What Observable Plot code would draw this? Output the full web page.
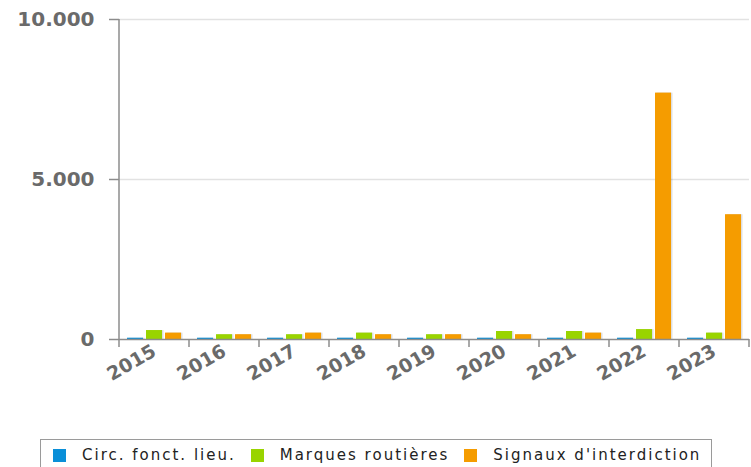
<!DOCTYPE html>
<html>
<head>
<meta charset="utf-8">
<script src="https://cdn.jsdelivr.net/npm/d3@7"></script>
<script src="https://cdn.jsdelivr.net/npm/@observablehq/plot@0.6"></script>
<style>
  html, body { margin: 0; padding: 0; background: #fff; }
  body { width: 751px; height: 467px; overflow: hidden; position: relative; font-family: "DejaVu Sans", sans-serif; }
  #legend { position: absolute; left: 40px; top: 439px; width: 672px; height: 40px; border: 1px solid #9a9a9a; box-sizing: border-box; display: flex; align-items: flex-start; padding-top: 6px; padding-left: 12px; white-space: nowrap; }
  .item { display: flex; align-items: center; flex-shrink: 0; margin-right: 15px; font-size: 15px; letter-spacing: 2px; color: #222; white-space: nowrap; }
  .sw { width: 13px; height: 13px; margin-right: 16px; flex-shrink: 0; }
</style>
</head>
<body>
<div id="chart"></div>
<div id="legend"></div>
<script>
const years = ["2015", "2016", "2017", "2018", "2019", "2020", "2021", "2022", "2023"];
const seriesNames = ["Circ. fonct. lieu.", "Marques routières", "Signaux d'interdiction"];
const circFonctLieu = [40, 40, 40, 40, 40, 40, 40, 40, 40];
const marquesRoutieres = [280, 150, 150, 200, 150, 250, 250, 310, 200];
const signauxInterdiction = [200, 150, 200, 150, 150, 150, 200, 7700, 3900];
const colors = ["#0a8fd8", "#99d400", "#f59c00"];
const yTicks = [0, 5000, 10000];

const seriesValues = [circFonctLieu, marquesRoutieres, signauxInterdiction];
const data = [];
years.forEach((yr, i) => seriesNames.forEach((s, j) => data.push({year: yr, series: s, value: seriesValues[j][i]})));

const loc = d3.formatLocale({decimal: ",", thousands: ".", grouping: [3], currency: ["", ""]});
const fmt = loc.format(",d");

const axisColor = "#8c8c8c";
const textColor = "#6a6a6a";

const chart = Plot.plot({
  width: 751,
  height: 430,
  marginLeft: 117,
  marginRight: 0,
  marginTop: 19,
  marginBottom: 91,
  style: {fontFamily: "DejaVu Sans, sans-serif", background: "#fff"},
  fx: {domain: years, padding: 0, label: null, axis: null},
  x: {domain: seriesNames, paddingInner: 0.16, paddingOuter: 0.42, axis: null},
  y: {domain: [0, 10000], label: null},
  color: {domain: seriesNames, range: colors},
  marks: [
    Plot.gridY(yTicks.filter(d => d > 0), {stroke: "#e2e2e2", strokeOpacity: 1, strokeWidth: 1.5}),
    Plot.axisY(yTicks, {tickFormat: fmt, tickSize: 10, tickPadding: 15, fontSize: 20, fontWeight: "bold", fill: textColor, stroke: axisColor, strokeWidth: 1.5, label: null, letterSpacing: 1}),
    Plot.axisFx({anchor: "bottom", tickRotate: -30, tickSize: 0, tickPadding: 10, fontSize: 19, fontWeight: "bold", fill: textColor, label: null}),
    Plot.barY(data, {fx: "year", x: "series", y: "value", fill: "#000", fillOpacity: 0.13, dx: 1.5}),
    Plot.barY(data, {fx: "year", x: "series", y: "value", fill: "series"}),
    Plot.ruleY([0], {stroke: axisColor, strokeWidth: 1.5})
  ]
});
document.getElementById("chart").appendChild(chart);

// axis line and band-edge ticks from the library's scales
const svg = d3.select(chart.tagName.toLowerCase() === "svg" ? chart : chart.querySelector("svg"));
const fxS = chart.scale("fx");
const yS = chart.scale("y");
const step = fxS.step || fxS.bandwidth;
const y0 = yS.apply(0), yTop = yS.apply(10000);
const x0 = fxS.apply(years[0]);
const g = svg.append("g").attr("stroke", axisColor).attr("stroke-width", 1.5);
g.append("line").attr("x1", x0).attr("x2", x0).attr("y1", yTop).attr("y2", y0);
years.concat(["__end"]).forEach((yr, i) => {
  const x = i < years.length ? fxS.apply(yr) : fxS.apply(years[years.length - 1]) + step;
  g.append("line").attr("x1", x).attr("x2", x).attr("y1", y0).attr("y2", y0 + 8);
});

// legend
const legend = document.getElementById("legend");
seriesNames.forEach((s, i) => {
  const it = document.createElement("div");
  it.className = "item";
  it.innerHTML = `<span class="sw" style="background:${colors[i]}"></span><span></span>`;
  it.lastChild.textContent = s;
  legend.appendChild(it);
});
</script>
</body>
</html>
